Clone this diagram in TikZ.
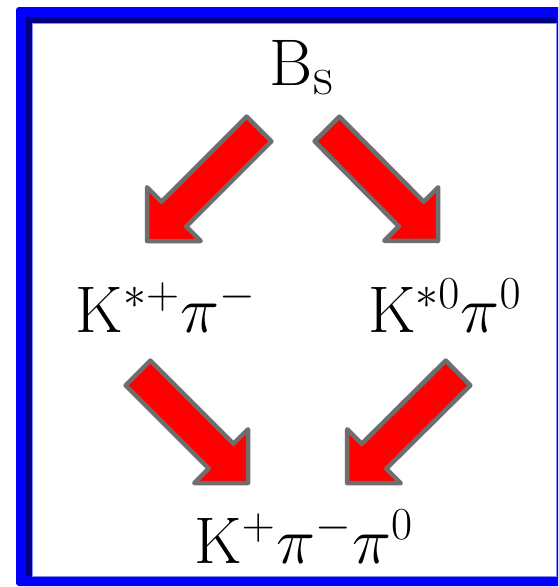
\documentclass[tikz,border=0pt]{standalone}
\usetikzlibrary{calc}
\definecolor{frameblue}{RGB}{0,0,252}
\definecolor{framenavy}{RGB}{0,0,130}
\definecolor{arrowgray}{RGB}{110,110,110}
\newcommand{\tinysup}[1]{^{\scriptscriptstyle #1}}

\begin{document}
\begin{tikzpicture}[x=1pt, y=-1pt,
  particle/.style={inner sep=0pt, anchor=base, font=\Huge, scale=2.65},
  blockarrow/.style={fill=red, draw=arrowgray, line width=4.5pt, line join=round,
    to path={($(\tikztostart)!17.5pt!90:(\tikztotarget)$)
      -- ($(\tikztotarget)!41.8pt!-24.7:(\tikztostart)$)
      -- ($(\tikztotarget)!53.7pt!-45:(\tikztostart)$)
      -- (\tikztotarget)
      -- ($(\tikztotarget)!53.7pt!45:(\tikztostart)$)
      -- ($(\tikztotarget)!41.8pt!24.7:(\tikztostart)$)
      -- ($(\tikztostart)!17.5pt!-90:(\tikztotarget)$) -- cycle}}]
  \clip (0,0) rectangle (558,587);
  % frame
  \fill[frameblue, rounded corners=3pt] (16,7) rectangle (580,586);
  \fill[framenavy] (26,17) rectangle (556,576);
  \fill[white, draw=frameblue!45, line width=0.8pt] (32,23) rectangle (556,576);
  % decay states
  \node[particle] (bs)  at (302,85)  {$\mathrm{B}_{\mathrm{s}}$};
  \node[particle] (kst) at (166,332) {$\mathrm{K}\tinysup{*+}\pi\tinysup{-}$};
  \node[particle] (kzr) at (445,332) {$\mathrm{K}\tinysup{*0}\pi\tinysup{0}$};
  \node[particle] (kpp) at (304,563) {$\mathrm{K}\tinysup{+}\pi\tinysup{-}\pi\tinysup{0}$};
  % arrow ends
  \coordinate (bs-l) at (259,129);
  \coordinate (bs-r) at (327,129);
  \coordinate (kst-in) at (147,241);
  \coordinate (kzr-in) at (438,241);
  \coordinate (kst-out) at (138,373);
  \coordinate (kzr-out) at (458,373);
  \coordinate (kpp-l) at (248,483);
  \coordinate (kpp-r) at (347,483);
  \draw[blockarrow] (bs-l) to (kst-in);
  \draw[blockarrow] (bs-r) to (kzr-in);
  \draw[blockarrow] (kst-out) to (kpp-l);
  \draw[blockarrow] (kzr-out) to (kpp-r);
\end{tikzpicture}
\end{document}
